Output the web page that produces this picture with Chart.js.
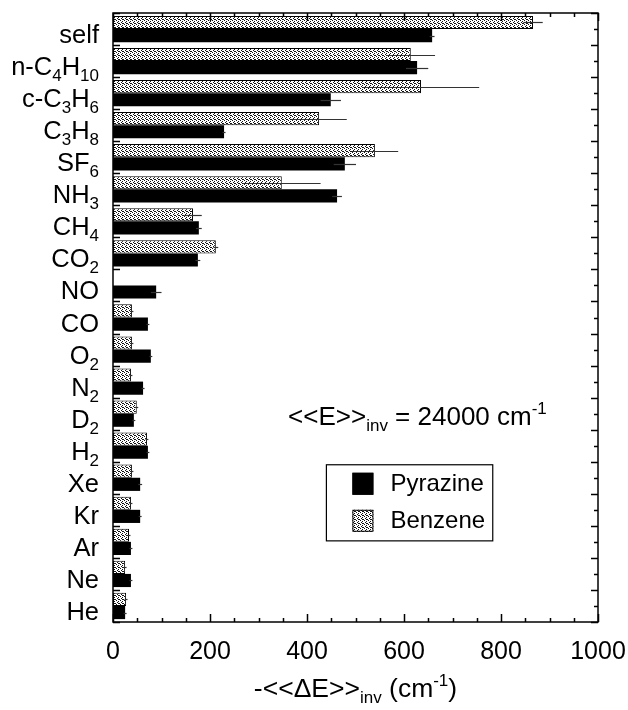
<!DOCTYPE html>
<html>
<head>
<meta charset="utf-8">
<script src="https://cdn.jsdelivr.net/npm/chart.js@4.4.1/dist/chart.umd.min.js"></script>
<style>
  html, body { margin: 0; padding: 0; background: #fff; }
</style>
</head>
<body>
<canvas id="chart" width="628" height="710"></canvas>
<script>
// collision partners, top to bottom
const categories = ['self', 'n-C4H10', 'c-C3H6', 'C3H8', 'SF6', 'NH3', 'CH4', 'CO2', 'NO', 'CO',
                    'O2', 'N2', 'D2', 'H2', 'Xe', 'Kr', 'Ar', 'Ne', 'He'];
// -<<dE>>inv in cm-1
const benzene    = [866, 614, 635, 425, 540, 348, 165, 212, null, 39, 39, 37, 49, 70, 39, 37, 33, 25, 27];
const benzeneErr = [20, 50, 120, 57, 48, 80, 18, 5, 0, 3, 3, 3, 3, 3, 3, 3, 3, 3, 3];
const pyrazine    = [658, 627, 449, 229, 478, 462, 177, 175, 89, 72, 78, 62, 43, 72, 56, 56, 37, 37, 25];
const pyrazineErr = [5, 23, 21, 3, 23, 10, 6, 5, 11, 3, 3, 3, 3, 3, 4, 3, 3, 3, 3];
const xTicks = [0, 200, 400, 600, 800, 1000];

const FONT = "'Liberation Sans', Arial, Helvetica, sans-serif";

function stipple() {
    const t = document.createElement('canvas');
    t.width = 4; t.height = 4;
    const g = t.getContext('2d');
    g.fillStyle = '#fff';
    g.fillRect(0, 0, 4, 4);
    g.fillStyle = '#111';
    [[0, 0], [2, 1], [1, 2], [3, 3], [2, 3]].forEach(p => g.fillRect(p[0], p[1], 1, 1));
    return g.createPattern(t, 'repeat');
}
const dots = stipple();

// draw text made of parts (normal / sub / sup), returns width
function drawParts(ctx, parts, x, y, size, align) {
    const small = Math.round(size * 0.65);
    let w = 0;
    parts.forEach(p => {
        ctx.font = (p.sub || p.sup ? small : size) + 'px ' + FONT;
        p.w = ctx.measureText(p.t).width;
        w += p.w;
    });
    let cx = align === 'right' ? x - w : align === 'center' ? x - w / 2 : x;
    ctx.textBaseline = 'middle';
    ctx.textAlign = 'left';
    parts.forEach(p => {
        ctx.font = (p.sub || p.sup ? small : size) + 'px ' + FONT;
        const dy = p.sub ? size * 0.33 : p.sup ? -size * 0.33 : 0;
        ctx.fillText(p.t, cx, y + dy);
        cx += p.w;
    });
    return w;
}

function chemParts(label) {
    return label.match(/\d+|\D+/g).map(t => ({t: t, sub: /^\d+$/.test(t)}));
}

const decorations = {
    id: 'decorations',
    afterDatasetsDraw(chart) {
        const {ctx, chartArea: a, scales: {x, y}} = chart;
        ctx.save();

        // error bars
        chart.data.datasets.forEach((ds, di) => {
            chart.getDatasetMeta(di).data.forEach((bar, i) => {
                const v = ds.data[i], e = ds.errors[i];
                if (v == null || !e) return;
                ctx.strokeStyle = '#333';
                ctx.lineWidth = 1.2;
                ctx.beginPath();
                ctx.moveTo(x.getPixelForValue(v - e), Math.round(bar.y) + 0.5);
                ctx.lineTo(x.getPixelForValue(v + e), Math.round(bar.y) + 0.5);
                ctx.stroke();
            });
        });

        // frame
        ctx.strokeStyle = '#000';
        ctx.lineWidth = 1.5;
        ctx.strokeRect(a.left, a.top, a.right - a.left, a.bottom - a.top);

        // inward ticks on top and bottom
        for (let v = 0; v <= 1000; v += 50) {
            const px = Math.round(x.getPixelForValue(v)) + 0.5;
            const len = v % 200 === 0 ? 8 : 4;
            ctx.beginPath();
            ctx.moveTo(px, a.bottom); ctx.lineTo(px, a.bottom - len);
            ctx.moveTo(px, a.top); ctx.lineTo(px, a.top + len);
            ctx.stroke();
        }

        // ticks on left (boundaries) and right (boundaries + centres)
        const n = categories.length;
        for (let i = 0; i <= n; i++) {
            const yb = i === 0 ? a.top : i === n ? a.bottom
                : (y.getPixelForValue(i - 1) + y.getPixelForValue(i)) / 2;
            const py = Math.round(yb) + 0.5;
            ctx.beginPath();
            ctx.moveTo(a.left, py); ctx.lineTo(a.left + 7, py);
            ctx.moveTo(a.right, py); ctx.lineTo(a.right - 7, py);
            ctx.stroke();
            if (i < n) {
                const pc = Math.round(y.getPixelForValue(i)) + 0.5;
                ctx.beginPath();
                ctx.moveTo(a.right, pc); ctx.lineTo(a.right - 4, pc);
                ctx.stroke();
            }
        }

        // category labels with subscripts
        ctx.fillStyle = '#000';
        categories.forEach((c, i) => {
            drawParts(ctx, chemParts(c), a.left - 14, y.getPixelForValue(i) + 7, 25.5, 'right');
        });

        // annotation
        drawParts(ctx, [{t: '<<E>>'}, {t: 'inv', sub: true}, {t: ' = 24000 cm'}, {t: '-1', sup: true}],
            x.getPixelForValue(361), y.getPixelForValue(12) + 4, 26, 'left');

        // legend
        const lx = x.getPixelForValue(440), lr = x.getPixelForValue(783);
        const ly = y.getPixelForValue(14) - 13, lb = y.getPixelForValue(16) - 1;
        ctx.fillStyle = '#fff';
        ctx.fillRect(lx, ly, lr - lx, lb - ly);
        ctx.lineWidth = 1.2;
        ctx.strokeRect(lx, ly, lr - lx, lb - ly);
        const items = [{label: 'Pyrazine', fill: '#000'}, {label: 'Benzene', fill: dots}];
        items.forEach((it, k) => {
            const cy = ly + 19 + k * 37;
            ctx.fillStyle = it.fill;
            ctx.fillRect(lx + 26, cy - 11, 21, 22);
            ctx.lineWidth = 1;
            ctx.strokeRect(lx + 26.5, cy - 10.5, 20, 21);
            ctx.fillStyle = '#000';
            ctx.font = '24px ' + FONT;
            ctx.textAlign = 'left';
            ctx.textBaseline = 'middle';
            ctx.fillText(it.label, lx + 64, cy + 1);
        });

        // x axis title
        drawParts(ctx, [{t: '-<<\u0394E>>'}, {t: 'inv', sub: true}, {t: ' (cm'}, {t: '-1', sup: true}, {t: ')'}],
            (a.left + a.right) / 2, 690, 26.5, 'center');

        ctx.restore();
    }
};

new Chart(document.getElementById('chart'), {
    type: 'bar',
    data: {
        labels: categories,
        datasets: [
            {
                label: 'Benzene',
                data: benzene,
                errors: benzeneErr,
                backgroundColor: dots,
                borderColor: '#000',
                borderWidth: 1,
                borderSkipped: false,
                categoryPercentage: 0.82,
                barPercentage: 1.0
            },
            {
                label: 'Pyrazine',
                data: pyrazine,
                errors: pyrazineErr,
                backgroundColor: '#000',
                borderWidth: 0,
                categoryPercentage: 0.82,
                barPercentage: 1.0
            }
        ]
    },
    options: {
        indexAxis: 'y',
        responsive: false,
        animation: false,
        layout: { padding: { top: 13, right: 30, left: 0, bottom: 0 } },
        plugins: {
            legend: { display: false },
            tooltip: { enabled: false }
        },
        scales: {
            x: {
                min: 0,
                max: 1000,
                afterBuildTicks(s) { s.ticks = xTicks.map(v => ({value: v})); },
                grid: { display: false, drawTicks: false },
                border: { display: false },
                ticks: {
                    color: '#000',
                    padding: 15,
                    font: { family: FONT, size: 25 },
                    callback: v => String(v)
                },
                afterFit(s) {
                    s.height = 88;
                    s.paddingLeft = 0;
                    s.paddingRight = 0;
                }
            },
            y: {
                grid: { display: false, drawTicks: false },
                border: { display: false },
                ticks: { display: false },
                afterFit(s) { s.width = 113; }
            }
        }
    },
    plugins: [decorations]
});
</script>
</body>
</html>
